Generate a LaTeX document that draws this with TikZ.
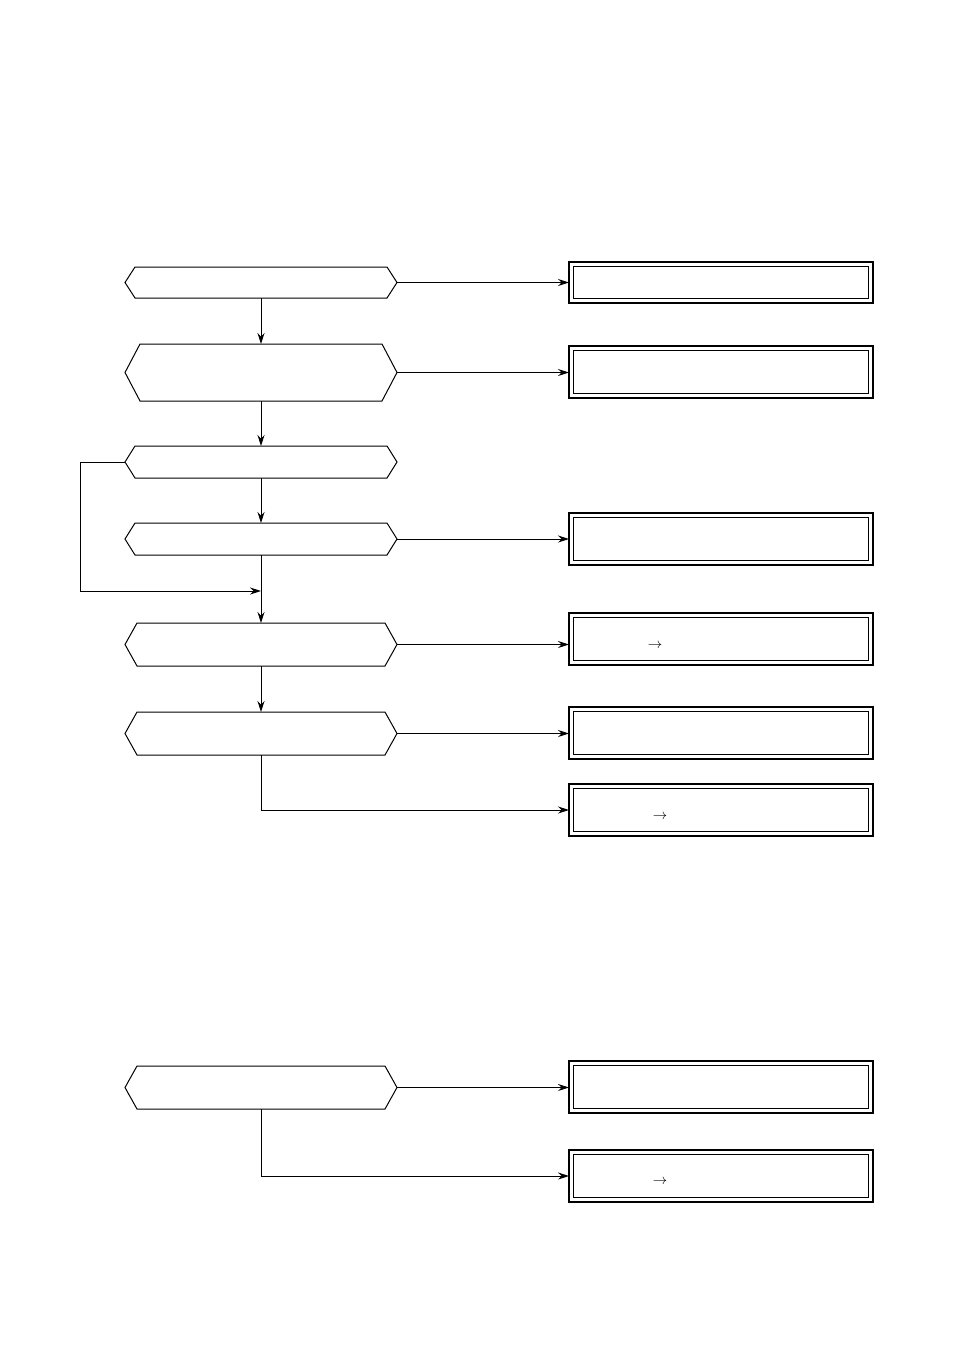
\documentclass[tikz,border=0pt]{standalone}
\usetikzlibrary{arrows.meta}
\begin{document}
\begin{tikzpicture}[x=1pt,y=-1pt,line width=1pt,
  arr/.style={-{Stealth[length=11pt,width=7pt]},line width=0.9pt},
  ghost/.style={inner sep=0,outer sep=0,minimum width=272pt}]
\useasboundingbox (0,0) rectangle (954,1348);
\newcommand{\hexa}[4]{% name, top, bottom, indent
  \node[ghost,minimum height=#3-#2] (#1) at (261,{(#2+#3)/2}) {};
  \draw (#1.west) -- ([xshift=#4]#1.north west) -- ([xshift=-#4]#1.north east) -- (#1.east) -- ([xshift=-#4]#1.south east) -- ([xshift=#4]#1.south west) -- cycle;}
\newcommand{\dboxn}[3]{%
  \node[inner sep=0,outer sep=0,minimum width=304pt,minimum height=#3-#2] (#1) at (721,{(#2+#3)/2}) {};
  \draw[line width=2.4pt] (#1.north west) rectangle (#1.south east);
  \draw[line width=0.9pt] ([shift={(4.5,4.5)}]#1.north west) rectangle ([shift={(-4.5,-4.5)}]#1.south east);}
\hexa{h1}{267}{298}{10}
\hexa{h2}{344}{401}{15}
\hexa{h3}{446}{478}{10}
\hexa{h4}{523}{555}{10}
\hexa{h5}{623}{666}{12}
\hexa{h6}{712}{755}{12}
\hexa{h7}{1066}{1109}{12}
\dboxn{b1}{262}{303}
\dboxn{b2}{346}{398}
\dboxn{b3}{513}{565}
\dboxn{b4}{613}{665}
\dboxn{b5}{707}{759}
\dboxn{b6}{784}{836}
\dboxn{b7}{1061}{1113}
\dboxn{b8}{1150}{1202}
\node[font=\Large] (t4) at (655,646) {$\rightarrow$};
\node[font=\Large] (t6) at (660,817) {$\rightarrow$};
\node[font=\Large] (t8) at (660,1182) {$\rightarrow$};
\draw[arr] (h1.east) -- (b1.west |- h1.east);
\draw[arr] (h2.east) -- (b2.west |- h2.east);
\draw[arr] (h4.east) -- (b3.west |- h4.east);
\draw[arr] (h5.east) -- (b4.west |- h5.east);
\draw[arr] (h6.east) -- (b5.west |- h6.east);
\draw[arr] (h7.east) -- (b7.west |- h7.east);
\draw[arr] (h1.south) -- (h2.north);
\draw[arr] (h2.south) -- (h3.north);
\draw[arr] (h3.south) -- (h4.north);
\draw[arr] (h4.south) -- (h5.north);
\draw[arr] (h5.south) -- (h6.north);
\coordinate (c6) at (261,810);
\draw[arr] (h6.south) -- (c6) -- (b6.west |- c6);
\coordinate (c7) at (261,1176);
\draw[arr] (h7.south) -- (c7) -- (b8.west |- c7);
\coordinate (l1) at (80,462);
\coordinate (l2) at (80,591);
\coordinate (l3) at (261,591);
\draw[arr] (h3.west) -- (l1) -- (l2) -- (l3);
\end{tikzpicture}
\end{document}
